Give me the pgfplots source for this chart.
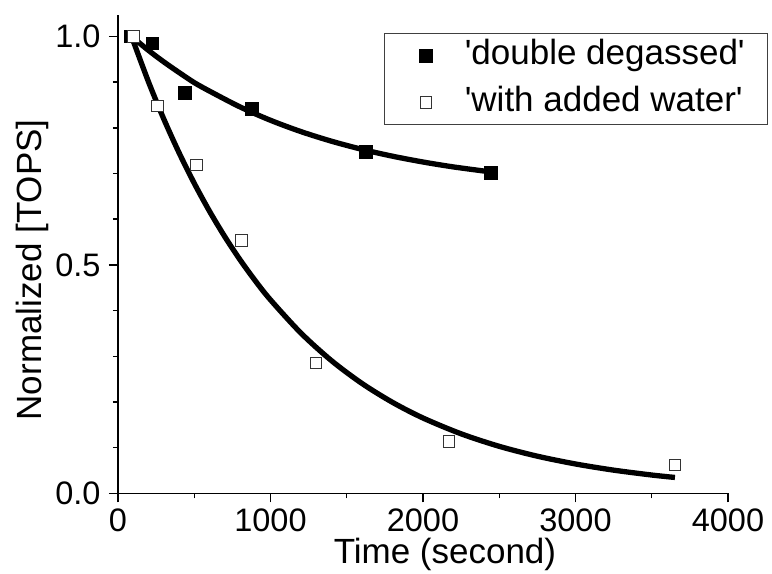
\documentclass[border=0pt]{standalone}
\usepackage{fontspec}
\setmainfont{Liberation Sans}
\usepackage{pgfplots}
\pgfplotsset{compat=1.18}
\begin{document}
\begin{tikzpicture}
\begin{axis}[
  name=ax,
  scale only axis,
  width=610pt, height=478.3pt,
  xmin=0, xmax=4000, ymin=0, ymax=1.047,
  axis x line*=bottom, axis y line*=left,
  axis line style={line width=1.4pt, black},
  xtick={0,1000,2000,3000,4000},
  ytick={0,0.5,1},
  minor x tick num=1,
  minor y tick num=4,
  tick align=outside,
  major tick length=9pt, minor tick length=5pt,
  every tick/.style={line width=1.4pt, black},
  /pgf/number format/assume math mode=true,
  scaled x ticks=false,
  xticklabel style={/pgf/number format/1000 sep={}, yshift=-3pt},
  yticklabel style={/pgf/number format/fixed, /pgf/number format/fixed zerofill, /pgf/number format/precision=1, xshift=-5pt},
  ticklabel style={font=\fontsize{32.5}{38}\selectfont},
  xlabel={Time (second)},
  ylabel={Normalized [TOPS]},
  label style={font=\fontsize{35}{42}\selectfont},
  xlabel style={at={(axis description cs:0.536,-0.1464)}, anchor=base},
  ylabel style={at={(axis description cs:-0.1246,0.467)}, anchor=base, rotate=0},
  clip=false,
  legend style={at={(axis description cs:1.066,0.962)}, anchor=north east,
    draw=black!75, line width=1pt, inner xsep=13pt, inner ysep=6pt,
    font=\fontsize{35}{42}\selectfont, row sep=15pt,
    nodes={inner xsep=10pt, inner ysep=0pt, text height=25pt, text depth=7pt}},
  legend cell align=left,
  legend image code/.code={\path[draw=none, fill=none] (0pt,-1pt) rectangle (57pt,1pt);
    \path[#1, draw=none] plot[only marks] coordinates {(28pt,0pt)};},
]
% double degassed (filled squares)
\addplot[only marks, mark=square*, mark size=6.3pt, mark options={fill=black, draw=black, line width=0.6pt}]
  coordinates {(80,1.0) (224,0.985) (439,0.877) (879,0.841) (1624,0.748) (2444,0.701)};
\addlegendentry{\textquotesingle double degassed\textquotesingle}
% with added water (open squares)
\addplot[only marks, mark=square*, mark size=5.8pt, mark options={fill=white, draw=black!80, line width=0.9pt}]
  coordinates {(100,1.0) (258,0.848) (513,0.719) (811,0.553) (1297,0.285) (2170,0.113) (3652,0.062)};
\addlegendentry{\textquotesingle with added water\textquotesingle}
% fitted curves
\addplot[forget plot, no marks, line width=5.3pt, black, smooth] coordinates {
 (89,1.0) (200,0.9695) (300,0.9444) (400,0.9212) (500,0.8990) (600,0.8804)
 (800,0.8458) (1000,0.8165) (1200,0.7917) (1400,0.7707) (1600,0.7529)
 (1800,0.7379) (2000,0.7252) (2200,0.7144) (2444,0.7035)};
\addplot[forget plot, no marks, line width=5.3pt, black, smooth] coordinates {
 (89,1.0) (200,0.9006) (300,0.8195) (400,0.7457) (500,0.6786) (600,0.6175)
 (700,0.5619) (800,0.5113) (900,0.4653) (1000,0.4234) (1200,0.3506)
 (1400,0.2903) (1600,0.2404) (1800,0.1991) (2000,0.1648) (2250,0.1302)
 (2500,0.1028) (2750,0.0812) (3000,0.0642) (3250,0.0507) (3500,0.0400)
 (3652,0.0347)};
\end{axis}
\pgfresetboundingbox
\path[use as bounding box] ([shift={(-118pt,-80.7pt)}]ax.south west) rectangle ([shift={(44pt,15pt)}]ax.north east);
\end{tikzpicture}
\end{document}
